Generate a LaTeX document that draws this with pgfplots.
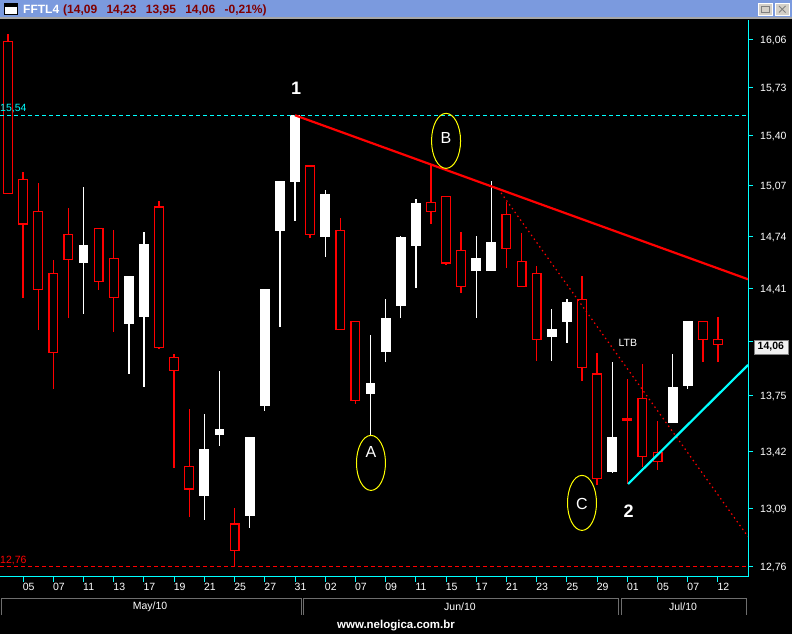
\documentclass[border=0pt]{standalone}
\usepackage{pgfplots}
\pgfplotsset{compat=1.18}
\usepackage{pgfplotstable}
\usepgfplotslibrary{statistics}
\usetikzlibrary{shapes.geometric}
\usepackage{fontspec}
\setmainfont{Liberation Sans}

\definecolor{titlebar}{HTML}{7B9ADE}
\definecolor{titlered}{HTML}{800000}
\definecolor{frame}{HTML}{6E6E6E}
\definecolor{btn}{HTML}{D4D0C8}
\definecolor{cyn}{RGB}{0,255,255}
\definecolor{rd}{RGB}{255,0,0}
\definecolor{ylw}{RGB}{255,255,0}

% FFTL4 daily candles, 04/May/10 - 12/Jul/10
\pgfplotstableread{
idx open high low close
0 16.05 16.10 15.02 15.02
1 15.11 15.16 14.35 14.82
2 14.90 15.09 14.15 14.40
3 14.50 14.59 13.79 14.01
4 14.75 14.92 14.22 14.59
5 14.57 15.06 14.25 14.68
6 14.79 14.79 14.40 14.45
7 14.60 14.78 14.14 14.35
8 14.19 14.48 13.88 14.48
9 14.23 14.77 13.80 14.69
10 14.93 14.97 14.03 14.04
11 13.98 14.00 13.32 13.90
12 13.33 13.67 13.04 13.20
13 13.16 13.64 13.02 13.43
14 13.52 13.90 13.45 13.55
15 13.00 13.09 12.76 12.85
16 13.05 13.50 12.98 13.50
17 13.69 14.40 13.66 14.40
18 14.78 15.10 14.17 15.10
19 15.10 15.54 14.84 15.54
20 15.20 15.20 14.73 14.75
21 14.74 15.04 14.61 15.01
22 14.78 14.86 14.15 14.15
23 14.20 14.20 13.70 13.72
24 13.76 14.12 13.51 13.82
25 14.02 14.34 13.95 14.22
26 14.30 14.74 14.22 14.73
27 14.68 14.98 14.41 14.95
28 14.96 15.21 14.82 14.90
29 15.00 15.00 14.56 14.57
30 14.65 14.77 14.38 14.42
31 14.52 14.74 14.22 14.60
32 14.52 15.10 14.52 14.70
33 14.88 14.96 14.54 14.66
34 14.58 14.76 14.42 14.42
35 14.50 14.55 13.96 14.09
36 14.11 14.28 13.96 14.15
37 14.20 14.34 14.07 14.32
38 14.34 14.49 13.84 13.92
39 13.88 14.01 13.22 13.26
40 13.30 13.95 13.29 13.50
41 13.61 13.85 13.23 13.60
42 13.73 13.94 13.33 13.39
43 13.41 13.60 13.31 13.36
44 13.59 14.00 13.59 13.80
45 13.81 14.20 13.79 14.20
46 14.20 14.20 13.95 14.09
47 14.09 14.23 13.95 14.06
}\candles

\pgfplotsset{
  candle/.style={boxplot/draw direction=y, boxplot/box extend=0.58,
    boxplot/whisker extend=0},
  upcandle/.style={candle,
    boxplot/every box/.style={draw=white, fill=white, line width=1pt},
    boxplot/every whisker/.style={white, line width=1.4pt},
    boxplot/every median/.style={white, line width=1pt}},
  downcandle/.style={candle,
    boxplot/every box/.style={draw=rd, fill=black, line width=1.2pt},
    boxplot/every whisker/.style={rd, line width=1.4pt},
    boxplot/every median/.style={rd, line width=1.2pt}},
}

\begin{document}
\begin{tikzpicture}
\useasboundingbox (0,0) rectangle (792pt,-634pt);
\fill[black] (0,0) rectangle (792pt,-634pt);

\begin{axis}[
  at={(0pt,-577pt)}, anchor=south west,
  width=748pt, height=557pt, scale only axis,
  xmin=-0.53, xmax=48.99,
  ymode=log, ymin=12.703, ymax=16.2,
  axis x line*=bottom, axis y line*=right,
  axis line style={cyn, line width=1pt},
  tick style={cyn, line width=1pt},
  tick align=outside, major tick length=5pt,
  xtick={1,3,...,47},
  xticklabels={05,07,11,13,17,19,21,25,27,31,02,07,09,11,15,17,21,23,25,29,01,05,07,12},
  ytick={12.76,13.09,13.42,13.75,14.08,14.41,14.74,15.07,15.40,15.73,16.06},
  yticklabels={{12,76},{13,09},{13,42},{13,75},{},{14,41},{14,74},{15,07},{15,40},{15,73},{16,06}},
  minor ytick={},
  ticklabel style={white, font=\fontsize{10.5}{12}\selectfont},
  xticklabel style={anchor=north west, inner sep=0pt, xshift=-0.5pt, yshift=-1.5pt},
  yticklabel style={anchor=west, inner sep=0pt, xshift=7pt, yshift=-1pt},
  clip mode=individual,
]
\pgfplotsinvokeforeach{0,...,47}{
  \pgfplotstablegetelem{#1}{open}\of\candles \let\cndO\pgfplotsretval
  \pgfplotstablegetelem{#1}{high}\of\candles \let\cndH\pgfplotsretval
  \pgfplotstablegetelem{#1}{low}\of\candles \let\cndL\pgfplotsretval
  \pgfplotstablegetelem{#1}{close}\of\candles \let\cndC\pgfplotsretval
  \ifdim\cndC pt<\cndO pt
    \def\cndS{downcandle}\let\cndLo\cndC\let\cndHi\cndO
  \else
    \def\cndS{upcandle}\let\cndLo\cndO\let\cndHi\cndC
  \fi
  \edef\cndPlot{\noexpand\addplot[\cndS, boxplot prepared={draw position=#1,
    lower whisker=\cndL, upper whisker=\cndH, lower quartile=\cndLo,
    upper quartile=\cndHi, median=\cndC}] coordinates {};}
  \cndPlot
}

% reference levels
\addplot[cyn, line width=1.3pt, dash pattern=on 4pt off 3pt] coordinates {(-0.53,15.54) (48.99,15.54)};
\addplot[rd, line width=1.3pt, dash pattern=on 4pt off 3pt] coordinates {(-0.53,12.76) (48.99,12.76)};
% trend lines
\addplot[rd, line width=2.2pt] coordinates {(19,15.54) (48.99,14.466)};
\addplot[rd, line width=1.2pt, dash pattern=on 1.4pt off 3.3pt] coordinates {(32.64,15.022) (48.99,12.928)};
\addplot[cyn, line width=2.2pt] coordinates {(41.05,13.229) (48.99,13.935)};

\node[anchor=south west, inner sep=0pt, cyn, font=\fontsize{10.5}{12}\selectfont] at (axis cs:-0.53,15.54) [yshift=2pt] {15,54};
\node[anchor=south west, inner sep=0pt, rd, font=\fontsize{10.5}{12}\selectfont] at (axis cs:-0.53,12.76) [yshift=2pt] {12,76};

\node[white, font=\bfseries\fontsize{18}{18}\selectfont] at (axis cs:19.07,15.724) {1};
\node[white, font=\bfseries\fontsize{18}{18}\selectfont] at (axis cs:41.09,13.074) {2};
\node[white, font=\fontsize{10.5}{12}\selectfont] at (axis cs:41.04,14.067) {LTB};

\node[draw=ylw, line width=1pt, ellipse, minimum width=29pt, minimum height=55pt, inner sep=0pt] at (axis cs:24.03,13.351) {};
\node[white, font=\fontsize{16}{16}\selectfont] at (axis cs:24.03,13.417) {A};
\node[draw=ylw, line width=1pt, ellipse, minimum width=29pt, minimum height=55pt, inner sep=0pt] at (axis cs:29,15.367) {};
\node[white, font=\fontsize{16}{16}\selectfont] at (axis cs:29,15.39) {B};
\node[draw=ylw, line width=1pt, ellipse, minimum width=29pt, minimum height=55pt, inner sep=0pt] at (axis cs:38,13.12) {};
\node[white, font=\fontsize{16}{16}\selectfont] at (axis cs:38,13.112) {C};
\end{axis}

% last price tag
\node[anchor=west, fill=white!88!gray, draw=gray, inner xsep=4pt, inner ysep=2.5pt,
  font=\bfseries\fontsize{10.5}{12}\selectfont] at (753.5pt,-347pt) {14,06};

% month frames
\draw[frame, line width=1pt] (1.5pt,-615pt) |- (301pt,-598pt) -- (301pt,-615pt);
\draw[frame, line width=1pt] (303.5pt,-615pt) |- (618.5pt,-598pt) -- (618.5pt,-615pt);
\draw[frame, line width=1pt] (621pt,-615pt) |- (746.5pt,-598pt) -- (746.5pt,-615pt);
\node[white, font=\fontsize{10.5}{12}\selectfont] at (150pt,-607pt) {May/10};
\node[white, font=\fontsize{10.5}{12}\selectfont] at (460pt,-607pt) {Jun/10};
\node[white, font=\fontsize{10.5}{12}\selectfont] at (683pt,-607pt) {Jul/10};
\node[white, font=\bfseries\fontsize{11.5}{12}\selectfont] at (396pt,-626pt) {www.nelogica.com.br};

% window title bar
\fill[titlebar] (0,0) rectangle (792pt,-17pt);
\fill[gray!70] (0,-17pt) rectangle (792pt,-19.5pt);
\filldraw[fill=white, draw=black, line width=1pt] (4pt,-4pt) rectangle (17pt,-15pt);
\fill[black] (4pt,-4pt) rectangle (17pt,-7.5pt);
\node[anchor=base west, inner sep=0pt, white, font=\bfseries\fontsize{12}{12}\selectfont] at (23pt,-13.3pt) {FFTL4};
\node[anchor=base west, inner sep=0pt, titlered, font=\bfseries\fontsize{12}{12}\selectfont] at (63pt,-13.3pt)
  {(14,09\hspace{6pt} 14,23\hspace{6pt} 13,95\hspace{6pt} 14,06\hspace{6pt} -0,21\%)};
\filldraw[fill=btn, draw=white] (758pt,-3.5pt) rectangle (772.5pt,-15pt);
\draw[gray, line width=0.6pt] (761pt,-6pt) rectangle (769.5pt,-12.5pt);
\draw[gray, line width=1.5pt] (761pt,-6.5pt) -- (769.5pt,-6.5pt);
\filldraw[fill=btn, draw=white] (775pt,-3.5pt) rectangle (789.5pt,-15pt);
\draw[gray, line width=1pt] (779pt,-6pt) -- (785.5pt,-12.5pt) (785.5pt,-6pt) -- (779pt,-12.5pt);
\end{tikzpicture}
\end{document}
